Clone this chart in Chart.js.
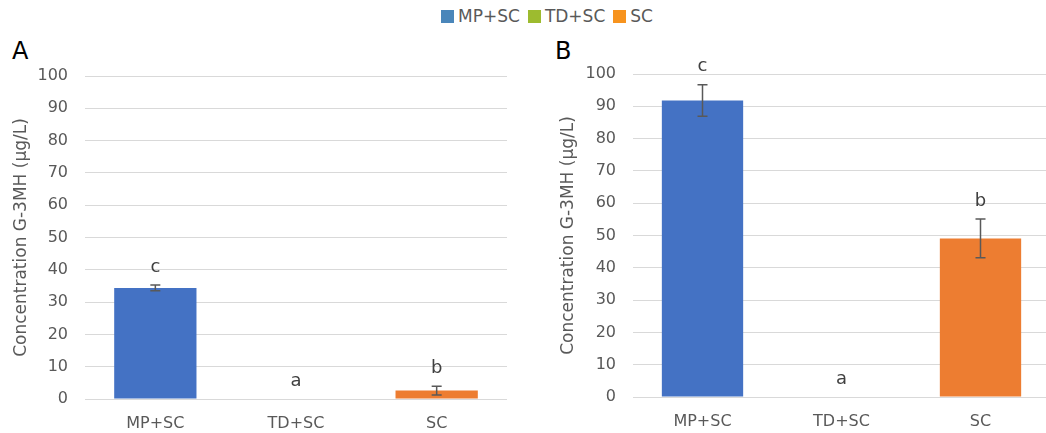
<!DOCTYPE html>
<html>
<head>
<meta charset="utf-8">
<script src="https://cdn.jsdelivr.net/npm/chart.js@4/dist/chart.umd.min.js"></script>
<style>
  html, body { margin: 0; padding: 0; background: #fff; width: 1046px; height: 433px; overflow: hidden; position: relative; font-family: "DejaVu Sans", sans-serif; }
  #legend { position: absolute; left: 0; top: 6px; width: 1094px; display: flex; justify-content: center; align-items: center; font-size: 17px; color: #595959; }
  .item { display: flex; align-items: center; margin: 0 4px; }
  .sw { width: 13px; height: 13px; margin-right: 4px; }
  .panel { position: absolute; font-size: 24px; color: #000; }
  canvas { position: absolute; top: 0; }
</style>
</head>
<body>
<div id="legend"></div>
<div class="panel" style="left:12px; top:37px;">A</div>
<div class="panel" style="left:555px; top:37px;">B</div>
<canvas id="cA" width="520" height="433" style="left:0px;"></canvas>
<canvas id="cB" width="530" height="433" style="left:520px;"></canvas>
<script>
const categories = ['MP+SC', 'TD+SC', 'SC'];
const barColors = ['#4472C4', '#A5C63B', '#ED7D31'];
const legendColors = ['#4A86BA', '#9DBB2F', '#F7931E'];

const valuesA = [34.4, 0, 2.6];
const errorsA = [0.9, 0, 1.35];
const lettersA = ['c', 'a', 'b'];

const valuesB = [91.8, 0, 49.1];
const errorsB = [4.9, 0, 6.0];
const lettersB = ['c', 'a', 'b'];

const yMin = 0, yMax = 100, yStep = 10;
const yTitle = 'Concentration G-3MH (µg/L)';

// legend
const lg = document.getElementById('legend');
categories.forEach((c, i) => {
  const it = document.createElement('div'); it.className = 'item';
  const sw = document.createElement('div'); sw.className = 'sw'; sw.style.background = legendColors[i];
  const tx = document.createElement('span'); tx.textContent = c;
  it.appendChild(sw); it.appendChild(tx); lg.appendChild(it);
});

const errLetterPlugin = {
  id: 'errLetters',
  afterDatasetsDraw(chart) {
    const cfg = chart.options.plugins.errLetters;
    const ctx = chart.ctx;
    const ys = chart.scales.y;
    const meta = chart.getDatasetMeta(0);
    ctx.save();
    meta.data.forEach((bar, i) => {
      const v = cfg.values[i], e = cfg.errors[i];
      const x = bar.x;
      if (e > 0) {
        const yt = ys.getPixelForValue(v + e), yb = ys.getPixelForValue(v - e);
        ctx.strokeStyle = '#595959'; ctx.lineWidth = 1.5;
        ctx.beginPath();
        ctx.moveTo(x, yt); ctx.lineTo(x, yb);
        ctx.moveTo(x - 5, yt); ctx.lineTo(x + 5, yt);
        ctx.moveTo(x - 5, yb); ctx.lineTo(x + 5, yb);
        ctx.stroke();
      }
      const ty = ys.getPixelForValue(v + e) - 18;
      ctx.fillStyle = '#404040';
      ctx.font = '18px "DejaVu Sans"';
      ctx.textAlign = 'center'; ctx.textBaseline = 'middle';
      ctx.fillText(cfg.letters[i], x, ty);
    });
    ctx.restore();
  }
};

function makeChart(id, values, errors, letters, o) {
  return new Chart(document.getElementById(id), {
    type: 'bar',
    data: { labels: categories, datasets: [{ data: values, backgroundColor: barColors, borderWidth: 0, barPercentage: 0.585, categoryPercentage: 1 }] },
    options: {
      responsive: false, animation: false, devicePixelRatio: 1,
      layout: { padding: { top: o.top, left: 0, right: o.right, bottom: 0 } },
      plugins: { legend: { display: false }, tooltip: { enabled: false },
        errLetters: { values, errors, letters } },
      scales: {
        x: {
          grid: { display: false, drawTicks: false }, border: { display: false },
          ticks: { color: '#595959', font: { family: 'DejaVu Sans', size: 16 }, padding: 15 },
          afterFit: s => { s.height = o.xh; }
        },
        y: {
          min: yMin, max: yMax,
          grid: { color: '#d9d9d9', lineWidth: 1, drawTicks: false }, border: { display: false },
          ticks: { stepSize: yStep, color: '#595959', font: { family: 'DejaVu Sans', size: 16 }, padding: 17 },
          title: { display: true, text: yTitle, color: '#595959', font: { family: 'DejaVu Sans', size: 17 }, padding: { top: o.tp, bottom: 0 } },
          afterFit: s => { s.width = o.yw; }
        }
      }
    },
    plugins: [errLetterPlugin]
  });
}

makeChart('cA', valuesA, errorsA, lettersA, { top: 76, right: 13, xh: 34, yw: 85, tp: 11 });
makeChart('cB', valuesB, errorsB, lettersB, { top: 74, right: 0, xh: 36, yw: 113, tp: 38 });
</script>
</body>
</html>
